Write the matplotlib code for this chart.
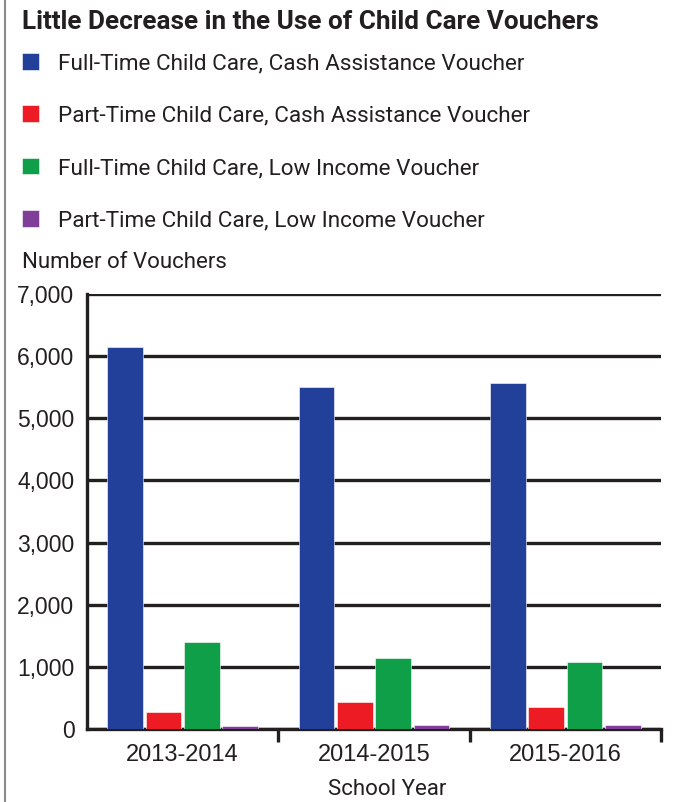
import numpy as np
import matplotlib
matplotlib.use("Agg")
import matplotlib.pyplot as plt
from matplotlib.lines import Line2D

# Data
years = ["2013-2014", "2014-2015", "2015-2016"]
series_names = [
    "Full-Time Child Care, Cash Assistance Voucher",
    "Part-Time Child Care, Cash Assistance Voucher",
    "Full-Time Child Care, Low Income Voucher",
    "Part-Time Child Care, Low Income Voucher",
]
full_cash = [6140, 5500, 5560]
part_cash = [270, 435, 355]
full_low = [1400, 1150, 1080]
part_low = [50, 65, 60]
colors = ["#22409A", "#ED1C24", "#0F9F48", "#7F3F98"]

narrow = ["Roboto", "DejaVu Sans"]
plain = ["Liberation Sans", "DejaVu Sans"]
ink = "#231F20"

fig = plt.figure(figsize=(6.9, 8.02), dpi=100)
ax = fig.add_axes([87 / 690, 73 / 802, 574 / 690, 435 / 802])

x = np.arange(len(years))
step = 0.2
width = 0.186
bars = []
for i, vals in enumerate([full_cash, part_cash, full_low, part_low]):
    b = ax.bar(x + (i - 1.5) * step, vals, width, color=colors[i],
               edgecolor="white", linewidth=0.4, zorder=3, label=series_names[i])
    bars.append(b)

ax.set_xlim(-0.5, 2.5)
ax.set_ylim(0, 7000)
ax.set_yticks(range(0, 7001, 1000))
ax.set_yticklabels([f"{v:,}" for v in range(0, 7001, 1000)], family=plain, fontsize=16.5, color=ink)
ax.yaxis.grid(True, color=ink, linewidth=2.4, zorder=1)
ax.tick_params(axis="y", length=0, pad=9)

ax.set_xticks(x)
ax.set_xticklabels(years, family=plain, fontsize=17, color=ink)
ax.set_xticks([0.5, 1.5, 2.5], minor=True)
ax.tick_params(axis="x", which="major", length=0, pad=11)
ax.tick_params(axis="x", which="minor", length=9, width=2.4, color=ink)

for s in ["top", "right"]:
    ax.spines[s].set_visible(False)
for s in ["left", "bottom"]:
    ax.spines[s].set_linewidth(2.4)
    ax.spines[s].set_color(ink)
    ax.spines[s].set_zorder(2.5)

ax.set_xlabel("School Year", family=narrow, fontsize=16, color=ink, labelpad=9,
              x=(387 - 87) / 574)

fig.text(22 / 690, 1 - 22 / 802, "Little Decrease in the Use of Child Care Vouchers",
         family=narrow, fontweight="bold", fontsize=18.8, color=ink, va="center")
fig.text(22 / 690, 1 - 262 / 802, "Number of Vouchers", family=narrow, fontsize=16,
         color=ink, va="center")

leg = fig.legend(handles=bars, labels=series_names, loc="upper left",
                 bbox_to_anchor=(22 / 690, 1 - 53 / 802), frameon=False,
                 prop={"family": narrow, "size": 16.2}, handlelength=0.76, handleheight=0.76,
                 handletextpad=0.85, labelspacing=1.39, borderaxespad=0, borderpad=0)
for t in leg.get_texts():
    t.set_color(ink)

# left frame line
fig.add_artist(Line2D([5 / 690, 5 / 690], [0, 1], color="#8A8A8A", linewidth=1.5))

fig.savefig("out.png", dpi=100)
